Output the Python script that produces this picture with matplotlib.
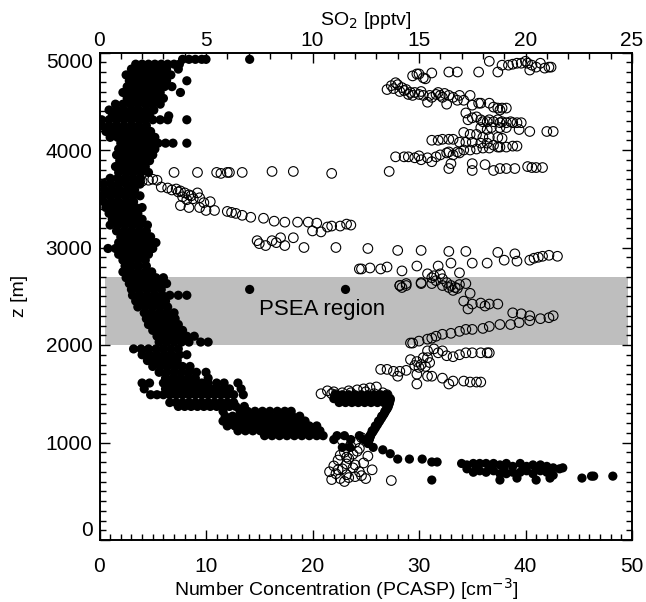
import numpy as np
import matplotlib
matplotlib.use("Agg")
import matplotlib.pyplot as plt
from matplotlib.ticker import MultipleLocator

plt.rcParams['font.family'] = ['Liberation Sans', 'DejaVu Sans']

# =========================
# Data
# =========================
# PCASP number concentration [cm-3]: rows of (altitude [m], [values at that altitude])
pcasp_upper = [
    (4930, [7.8, 8.4, 9.0, 9.6, 10.0, 14.1]),
    (4880, [3.4, 4.0, 4.6, 5.2, 5.8, 6.4, 7.0, 7.5]),
    (4830, [3.0, 3.6, 4.3, 5.0, 5.7, 6.3, 7.4]),
    (4770, [2.5, 3.2, 3.9, 4.6, 5.3, 6.0, 6.7]),
    (4710, [2.8, 3.5, 4.2, 4.9, 5.6, 6.3, 8.2]),
    (4650, [2.6, 3.3, 4.0, 4.7, 5.4, 6.1, 6.8]),
    (4590, [2.2, 2.9, 3.6, 4.3, 5.0, 5.7, 7.6]),
    (4530, [2.6, 3.3, 4.0, 4.7, 5.4, 6.0]),
    (4470, [1.5, 2.2, 2.9, 3.6, 4.3, 5.0, 5.7]),
    (4410, [0.9, 1.6, 2.3, 3.0, 3.7, 4.4, 5.1]),
    (4350, [1.2, 1.9, 2.6, 3.3, 4.0, 4.7, 6.5]),
    (4310, [0.2, 0.9, 1.6, 2.3, 3.0, 3.7, 4.3, 5.0, 5.7, 6.4, 8.2]),
    (4250, [0.2, 0.9, 1.6, 2.3, 3.0, 3.7, 4.4]),
    (4190, [0.6, 1.3, 2.0, 2.7, 3.4, 4.1, 4.8]),
    (4130, [1.0, 1.7, 2.4, 3.1, 3.8, 4.5, 5.2]),
    (4070, [2.0, 2.7, 3.4, 4.1, 4.8, 5.5, 6.2, 6.9, 8.2]),
    (4010, [1.8, 2.5, 3.2, 3.9, 4.6, 5.2]),
    (3950, [1.6, 2.3, 3.0, 3.7, 4.4, 5.0]),
    (3890, [1.9, 2.6, 3.3, 4.0, 4.7]),
    (3830, [1.5, 2.2, 2.9, 3.6, 4.3]),
    (3770, [1.8, 2.5, 3.2, 3.9, 4.6]),
    (3710, [1.0, 1.7, 2.4, 3.1, 3.8]),
    (3650, [0.4, 1.1, 1.8, 2.5, 3.2, 3.8]),
    (3590, [0.5, 1.2, 1.9, 2.6, 3.3]),
    (3530, [0.3, 1.0, 1.7, 2.4, 3.1, 3.8]),
    (3470, [0.4, 1.1, 1.8, 2.5, 3.2]),
    (3410, [0.6, 1.3, 2.0, 2.7, 3.4, 4.0]),
    (3350, [0.9, 1.6, 2.3, 3.0, 3.6]),
    (3290, [1.2, 1.9, 2.6, 3.3, 4.0]),
    (3230, [1.0, 1.7, 2.4, 3.1, 3.8, 4.5]),
    (3170, [1.6, 2.3, 3.0, 3.7, 4.4]),
    (3110, [2.0, 2.7, 3.4, 4.1, 4.8]),
    (3050, [1.8, 2.5, 3.2, 3.9, 4.6, 5.3]),
    (2990, [0.8, 1.5, 2.2, 2.9, 3.6, 4.3, 5.0]),
    (2930, [1.8, 2.5, 3.2, 3.9, 4.6]),
    (2870, [2.2, 2.9, 3.6, 4.3]),
    (2810, [2.4, 3.0, 3.7, 4.4]),
    (2750, [2.2, 2.9, 3.6, 4.3, 4.9]),
]

pcasp_middle = [
    (2690, [2.5, 3.2, 3.9, 4.6, 5.3, 6.0]),
    (2630, [2.8, 3.5, 4.2, 4.9, 5.6, 6.3]),
    (2570, [3.0, 3.7, 4.4, 5.1, 5.8, 14.1, 23.1]),
    (2510, [3.1, 3.8, 4.5, 5.2, 5.9, 6.6, 7.4, 8.2]),
    (2450, [3.4, 4.1, 4.8, 5.5, 6.2]),
    (2390, [3.6, 4.3, 5.0, 5.7, 6.4]),
    (2330, [4.2, 4.9, 5.6, 6.3, 7.0]),
    (2270, [4.4, 5.1, 5.8, 6.5, 7.1]),
    (2210, [4.6, 5.3, 6.0, 6.7, 7.4]),
    (2150, [5.0, 5.7, 6.4, 7.1, 7.8]),
    (2090, [5.4, 6.1, 6.8, 7.5, 8.2, 8.9]),
    (2030, [5.6, 6.3, 7.0, 7.7, 8.4, 9.5, 10.2]),
    (1960, [3.2, 3.9, 4.6, 5.3, 6.0, 6.7, 7.4]),
    (1900, [4.0, 4.7, 5.4, 6.1, 6.8, 7.5, 8.2]),
    (1840, [4.5, 5.2, 5.9, 6.6, 7.3]),
    (1780, [5.0, 5.7, 6.4, 7.1, 7.8, 8.5]),
    (1720, [5.6, 6.3, 7.0, 7.7, 8.4, 9.1, 10.0]),
    (1660, [6.2, 6.9, 7.6, 8.3, 9.0, 10.2]),
    (1610, [4.0, 4.7, 6.0, 6.6, 7.2, 7.8, 8.4, 9.0, 9.6, 10.2, 11.0, 11.7, 13.0]),
    (1550, [4.2, 6.2, 6.8, 7.4, 8.0, 8.6, 9.2, 9.8, 10.4, 11.0, 11.6, 12.2, 13.3]),
    (1490, [4.8, 5.4, 6.0, 6.6, 7.2, 7.8, 8.4, 9.0, 9.6, 10.2, 10.8, 11.4, 12.0, 12.6, 13.5,
            22.2, 22.8, 23.4, 24.0, 24.6, 25.2, 25.8, 26.4, 27.0]),
    (1450, [22.0, 22.6, 23.2, 23.8, 24.4, 25.0, 25.6, 26.2, 26.8, 27.3]),
    (1410, [6.6, 7.2, 7.8, 8.4, 9.0, 9.6, 10.2, 10.8, 11.4, 12.0, 12.6,
            22.5, 23.1, 23.7, 24.3, 24.9, 25.5, 26.1, 26.7, 27.2]),
    (1370, [7.4, 8.0, 8.6, 9.2, 9.8, 10.4, 11.0, 11.6, 12.2, 12.8, 13.6, 27.0]),
    (1320, [11.6, 13.2, 13.9, 14.6, 15.3, 16.0, 16.7, 17.4, 18.0, 26.8]),
]

pcasp_lower = [
    (1270, [11.8, 12.5, 13.2, 13.9, 14.6, 15.3, 16.0, 16.7, 17.4, 18.1, 18.8, 26.5]),
    (1220, [11.6, 12.3, 13.0, 13.7, 14.4, 15.1, 15.8, 16.5, 17.2, 17.9, 18.6, 19.3, 26.2]),
    (1170, [12.0, 12.7, 13.4, 14.1, 14.8, 15.5, 16.2, 16.9, 17.6, 18.3, 19.0, 19.7, 20.4, 25.9]),
    (1120, [13.0, 13.7, 14.4, 15.1, 15.8, 16.5, 17.2, 17.9, 18.6, 19.3, 20.0, 20.7, 25.6]),
    (1070, [15.5, 16.2, 16.9, 17.6, 18.3, 19.0, 19.7, 20.4, 21.0, 22.3, 23.0, 24.4, 25.4]),
    (1030, [22.0, 23.6, 24.8, 25.3]),
    (990, [25.2]),
    (950, [22.8, 23.5, 25.7]),
    (925, [26.6]),
    (885, [27.3]),
    (830, [28.0, 29.1, 30.3]),
    (800, [31.2, 31.7]),
    (785, [34.0, 35.1, 35.7, 36.3, 37.0, 38.2, 39.5]),
    (770, [34.5, 37.6, 40.7, 41.4]),
    (755, [38.8, 40.1, 42.0]),
    (740, [35.4, 36.8, 42.6, 43.5]),
    (730, [34.5, 38.0, 39.8, 41.0, 43.2]),
    (710, [35.7, 37.0, 40.1, 41.4]),
    (695, [35.1, 36.3, 38.8, 39.5, 42.0]),
    (680, [37.6, 38.2, 40.7]),
    (665, [42.6]),
    (655, [46.2, 46.4, 48.2]),
    (635, [39.2, 42.3, 45.3]),
    (615, [31.2, 37.6, 41.0]),
]

# steep descent of the PCASP trace between 1450 m and 1000 m
pcasp_descent_n = [27.3, 27.25, 27.2, 27.15, 27.1, 27.0, 26.9, 26.8, 26.7, 26.6,
                   26.5, 26.4, 26.3, 26.2, 26.1, 26.0, 25.9, 25.8, 25.7, 25.6,
                   25.5, 25.45, 25.4, 25.35, 25.3, 25.25, 25.2]
pcasp_descent_z = [1440, 1420, 1400, 1385, 1365, 1345, 1330, 1310, 1290, 1275,
                   1255, 1240, 1220, 1205, 1185, 1170, 1150, 1135, 1115, 1100,
                   1085, 1070, 1055, 1040, 1025, 1010, 995]

# SO2 mixing ratio [pptv] as (value, altitude [m])
so2_upper = [
    (18.3, 4910), (18.7, 4800), (18.9, 4870), (19.2, 4870), (19.4, 4880), (19.6, 4890),
    (19.8, 4890), (20.0, 4910), (20.1, 4890), (20.2, 4820), (20.3, 4870), (20.5, 4850),
    (20.7, 4890), (20.9, 4840), (21.1, 4850), (21.2, 4850), (16.4, 4800), (16.8, 4800),
    (17.8, 4800), (14.7, 4760), (14.9, 4780), (15.0, 4780), (15.2, 4740), (15.3, 4730),
    (15.6, 4790), (13.5, 4620), (13.7, 4660), (13.9, 4690), (14.0, 4670), (14.2, 4640),
    (14.3, 4610), (14.5, 4570), (14.7, 4560), (14.8, 4590), (15.0, 4570), (15.2, 4560),
    (15.4, 4490), (15.5, 4560), (15.6, 4540), (15.8, 4570), (16.0, 4560), (16.1, 4540),
    (16.3, 4470), (16.4, 4560), (16.6, 4540), (16.8, 4510), (16.9, 4560), (17.1, 4510),
    (17.4, 4560), (17.5, 4460), (13.8, 4630), (14.1, 4600), (14.4, 4620), (14.6, 4590),
    (15.1, 4600), (15.9, 4590), (16.2, 4580), (17.8, 4480), (17.9, 4480), (18.3, 4480),
    (18.5, 4440), (18.7, 4430), (18.8, 4410), (18.9, 4430), (19.1, 4430),
    (17.2, 4380), (17.3, 4310), (17.5, 4330), (17.7, 4340), (17.9, 4310), (18.0, 4290),
    (18.2, 4290), (18.3, 4310), (18.5, 4290), (18.7, 4310), (18.8, 4280), (18.9, 4290),
    (19.1, 4280), (19.3, 4290), (19.4, 4280), (19.6, 4280), (19.8, 4280), (17.9, 4230),
    (18.2, 4210), (18.4, 4230), (18.8, 4230), (19.1, 4230), (19.7, 4210), (20.2, 4190),
    (21.0, 4190), (21.3, 4190), (17.1, 4180), (17.4, 4160), (17.7, 4160), (18.0, 4130),
    (18.3, 4130), (18.7, 4130), (18.9, 4120), (15.6, 4100), (15.9, 4100), (16.1, 4110),
    (16.4, 4110), (16.6, 4110), (16.9, 4080), (17.2, 4080), (17.5, 4080), (17.9, 4070),
    (18.2, 4070), (18.5, 4050), (18.8, 4030), (19.1, 4030), (19.4, 4040), (19.6, 4040),
    (16.4, 3980), (16.8, 3980), (17.1, 4000), (17.4, 4000), (17.7, 4010), (18.0, 4020),
    (18.3, 4020), (18.7, 4030), (13.9, 3930), (14.3, 3930), (14.5, 3930), (14.8, 3920),
    (15.0, 3940), (15.1, 3900), (15.4, 3920), (15.6, 3880), (15.8, 3930), (16.0, 3950),
    (16.3, 3970), (16.6, 3950), (16.9, 3970), (16.4, 3810), (16.5, 3860), (17.5, 3860),
    (17.5, 3790), (18.1, 3850), (18.5, 3790), (18.8, 3810), (19.1, 3810), (19.5, 3810),
    (20.1, 3830), (20.3, 3820), (20.5, 3820), (20.8, 3820),
]

so2_middle = [
    (3.5, 3770), (4.6, 3770), (5.5, 3770), (5.7, 3760), (6.0, 3770), (6.1, 3770),
    (6.7, 3770), (8.1, 3780), (9.1, 3780), (10.9, 3760), (13.6, 3780),
    (0.1, 3650), (0.3, 3660), (0.7, 3680), (1.1, 3640), (1.6, 3660), (1.9, 3690),
    (2.0, 3680), (2.3, 3690), (2.5, 3700), (2.7, 3690), (1.3, 3700), (0.5, 3630),
    (2.9, 3620), (3.2, 3610), (3.4, 3590), (3.7, 3570), (3.9, 3520), (4.1, 3490),
    (4.2, 3540), (4.6, 3560), (4.7, 3510), (4.9, 3460), (5.2, 3470), (3.8, 3430),
    (4.2, 3410), (4.7, 3410), (5.0, 3380), (3.6, 3600), (3.8, 3580), (4.0, 3560),
    (4.3, 3530), (4.4, 3500),
    (5.4, 3380), (6.0, 3370), (6.2, 3360), (6.4, 3350), (6.7, 3330), (7.1, 3310),
    (7.7, 3300), (8.2, 3270), (8.7, 3260), (9.3, 3260), (9.8, 3260), (10.0, 3170),
    (10.2, 3250), (10.4, 3160), (10.7, 3210), (10.9, 3220), (11.3, 3220), (11.6, 3240),
    (11.8, 3230), (7.4, 3070), (7.5, 3040), (7.8, 3020), (8.1, 3070), (8.3, 3050),
    (8.5, 3100), (8.7, 3020), (9.1, 3100), (9.6, 3000),
    (11.1, 3000), (12.6, 2990), (14.0, 2970), (15.1, 2970), (16.4, 2960), (17.2, 2960),
    (18.7, 2950), (19.0, 2870), (19.5, 2935), (19.6, 2860), (20.2, 2870), (20.4, 2890),
    (20.6, 2900), (20.8, 2910), (21.1, 2920), (21.5, 2910),
    (12.2, 2780), (12.3, 2780), (12.7, 2790), (13.2, 2780), (13.5, 2800), (14.2, 2760),
    (14.9, 2810), (15.9, 2810), (16.5, 2840), (17.5, 2840), (18.2, 2840),
    (15.4, 2730), (15.6, 2690), (15.7, 2710), (16.0, 2730), (16.1, 2680), (16.3, 2640),
    (16.5, 2610), (16.7, 2590), (16.8, 2580), (16.9, 2740), (14.1, 2610), (14.2, 2590),
    (14.4, 2610), (15.1, 2630), (15.8, 2660),
    (14.1, 2610), (14.4, 2630), (15.1, 2640), (15.6, 2630), (16.1, 2610), (16.4, 2590),
    (16.6, 2560), (16.9, 2620), (17.2, 2630), (17.4, 2530),
    (17.1, 2450), (17.3, 2370), (17.5, 2420), (17.9, 2430), (18.1, 2400), (18.3, 2420),
    (18.7, 2420), (19.4, 2330), (19.8, 2320), (20.2, 2300), (21.1, 2280), (21.3, 2300),
    (20.7, 2270), (20.2, 2250), (19.7, 2230), (19.3, 2210), (18.8, 2210), (18.3, 2190),
    (18.0, 2170), (17.5, 2160), (17.2, 2160), (16.9, 2140), (16.5, 2120), (16.1, 2110),
    (15.8, 2090), (15.6, 2070), (15.4, 2060), (15.0, 2040), (14.7, 2020), (14.6, 2020),
]

so2_lower = [
    (15.4, 1940), (15.7, 1960), (15.9, 1920), (16.1, 1940), (16.3, 1890), (16.6, 1880),
    (16.9, 1900), (17.2, 1920), (17.5, 1920), (17.9, 1920), (18.2, 1920), (18.3, 1920),
    (15.2, 1870), (15.4, 1870),
    (14.6, 1850), (14.9, 1830), (15.1, 1800), (15.3, 1780), (15.5, 1820), (14.8, 1790),
    (15.0, 1770),
    (13.2, 1750), (13.5, 1750), (13.8, 1730), (14.1, 1730), (14.4, 1740), (14.9, 1700),
    (15.4, 1680), (15.6, 1680), (16.1, 1660), (16.6, 1630), (17.1, 1630), (17.4, 1620),
    (17.7, 1620), (17.9, 1620), (14.0, 1680), (14.9, 1600), (16.4, 1600),
    (10.4, 1500), (10.7, 1530), (10.9, 1500), (11.1, 1490), (11.4, 1510), (11.7, 1530),
    (12.1, 1540), (12.4, 1550), (12.7, 1560), (13.0, 1570), (13.3, 1510), (13.5, 1490),
    (11.0, 1520), (11.8, 1510), (12.5, 1520), (12.9, 1500),
    (10.8, 700), (11.1, 680), (11.3, 630), (11.4, 730), (11.6, 780), (11.7, 835),
    (11.9, 880), (12.1, 910), (12.2, 940), (12.5, 630), (11.6, 670), (13.7, 610),
    (11.0, 760), (11.2, 820), (11.5, 900), (11.8, 960), (12.0, 1000), (12.3, 1050),
    (11.4, 1020), (11.9, 740), (12.2, 700), (12.4, 790), (11.3, 870), (12.6, 860),
    (12.0, 650), (11.5, 600), (12.8, 720), (10.9, 620), (11.7, 640), (12.3, 660),
    (11.2, 720), (12.0, 770), (11.6, 850),
]

# PSEA region altitude band [m]
psea_bottom = 2000
psea_top = 2700

z_ticks = [0, 1000, 2000, 3000, 4000, 5000]
pcasp_ticks = [0, 10, 20, 30, 40, 50]
so2_ticks = [0, 5, 10, 15, 20, 25]


def flatten_rows(rows):
    z = [alt for alt, vals in rows for _ in vals]
    n = [v for alt, vals in rows for v in vals]
    return np.array(n), np.array(z)


pcasp_n, pcasp_z = flatten_rows(pcasp_upper + pcasp_middle + pcasp_lower)
so2 = np.array(so2_upper + so2_middle + so2_lower)

# =========================
# Plot
# =========================
fig = plt.figure(figsize=(6.46, 6.02), dpi=100)
ax = fig.add_axes([99.5 / 646, 1 - 540 / 602, 532.5 / 646, 487.5 / 602])

ax.fill_between([0.5, 49.6], psea_bottom, psea_top, color="#bebebe", lw=0, zorder=0)
ax.text(15.0, 2305, "PSEA region", fontsize=16, va="baseline", ha="left", zorder=1)

ax.scatter(pcasp_n, pcasp_z, s=44, c="black", edgecolors="none", zorder=2)
ax.scatter(pcasp_descent_n, pcasp_descent_z, s=44, c="black", edgecolors="none", zorder=2)

ax.set_xlim(0, 50)
ax.set_ylim(0, 5000)
ax.set_xticks(pcasp_ticks)
ax.set_yticks(z_ticks)
ax.xaxis.set_minor_locator(MultipleLocator(1))
ax.yaxis.set_minor_locator(MultipleLocator(100))
ax.tick_params(which="both", direction="in", top=False, right=True, width=1.0,
               labelsize=15, colors="black")
ax.tick_params(which="major", length=7.5)
ax.tick_params(which="minor", length=4)
ax.tick_params(axis="x", pad=12)
ax.tick_params(axis="y", pad=5)
ax.set_xlabel("Number Concentration (PCASP) [cm$^{-3}$]", fontsize=14)
ax.xaxis.set_label_coords(0.463, -0.075)
ax.set_ylabel("z [m]", fontsize=14)
ax.yaxis.set_label_coords(-0.135, 0.5)
for sp in ax.spines.values():
    sp.set_linewidth(1.2)

# keep the end labels of the altitude axis inside the frame
ylabels = ax.get_yticklabels()
ylabels[0].set_va("bottom")
ylabels[-1].set_va("top")

# SO2 on the top axis
ax2 = ax.twiny()
ax2.scatter(so2[:, 0], so2[:, 1], s=48, facecolors="none", edgecolors="black",
            linewidths=0.8, zorder=3)
ax2.set_xlim(0, 25)
ax2.set_xticks(so2_ticks)
ax2.xaxis.set_minor_locator(MultipleLocator(1))
ax2.tick_params(which="both", direction="in", labelsize=15, width=1.0, pad=1.5)
ax2.tick_params(which="major", length=7.5)
ax2.tick_params(which="minor", length=4)
ax2.set_xlabel("SO$_2$ [pptv]", fontsize=14)
ax2.xaxis.set_label_coords(0.5, 1.056)
for sp in ax2.spines.values():
    sp.set_linewidth(1.2)

plt.savefig("out.png", dpi=100)
